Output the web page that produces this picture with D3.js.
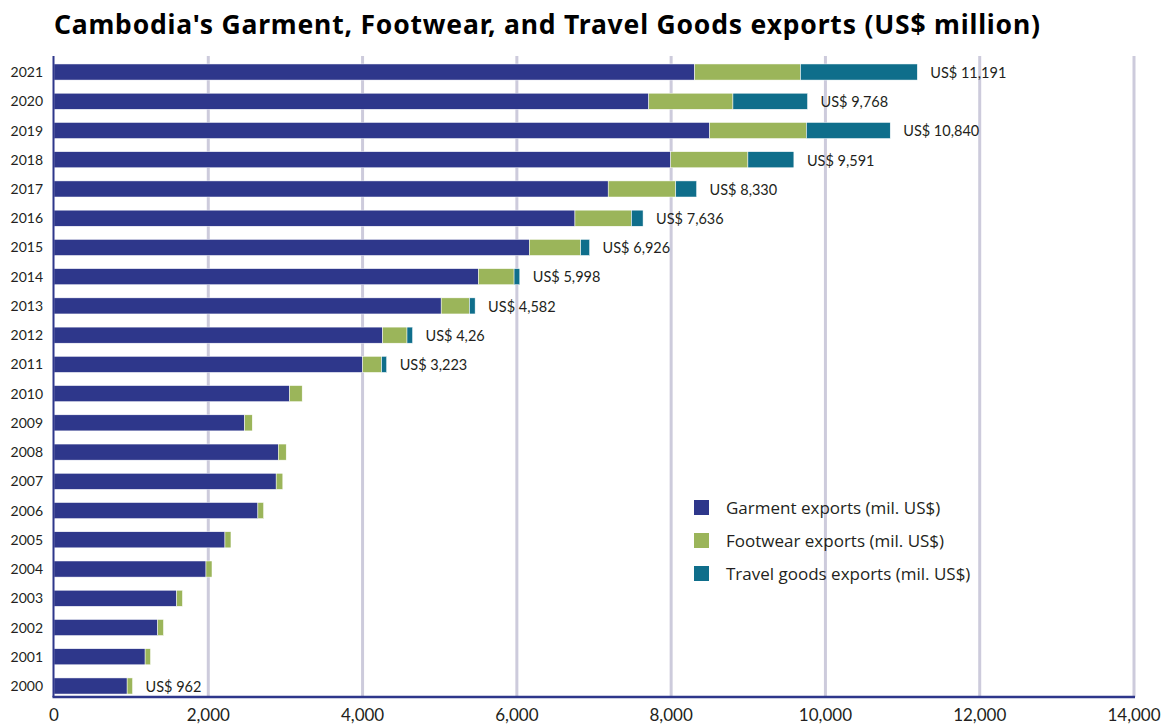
<!DOCTYPE html>
<html lang="en">
<head>
<meta charset="UTF-8">
<title>Cambodia's Garment, Footwear, and Travel Goods exports</title>
<script src="https://d3js.org/d3.v7.min.js"></script>
<style>
    body { margin: 0; background: #ffffff; }
    svg { display: block; }
    .title { font-family: 'Noto Sans', sans-serif; font-weight: bold; font-size: 26.5px; letter-spacing: 0.8px; fill: #000; }
    .year { font-family: 'Lato', sans-serif; font-size: 14px; fill: #231f20; }
    .total { font-family: 'Lato', sans-serif; font-size: 14.5px; fill: #231f20; }
    .xtick { font-family: 'Lato', sans-serif; font-size: 17px; fill: #231f20; }
    .legend-text { font-family: 'Open Sans', sans-serif; font-size: 17px; fill: #231f20; }
</style>
</head>
<body>
<svg id="chart" width="1161" height="724"></svg>
<script>
// values in US$ million
const years = ["2000","2001","2002","2003","2004","2005","2006","2007","2008","2009","2010",
               "2011","2012","2013","2014","2015","2016","2017","2018","2019","2020","2021"];
const garment  = [948,1181,1345,1591,1970,2216,2643,2880,2907,2471,3053,4001,4260,5019,5502,6162,6753,7184,7995,8499,7710,8305];
const footwear = [70,70,74,74,78,78,74,86,103,99,164,246,316,367,462,665,733,876,1000,1255,1091,1372];
const travel   = [0,0,0,0,0,0,0,0,0,0,0,65,72,73,74,116,150,270,596,1086,967,1514];

const labelYears = ["2000","2011","2012","2013","2014","2015","2016","2017","2018","2019","2020","2021"];
const labelTexts = ["US$ 962","US$ 3,223","US$ 4,26","US$ 4,582","US$ 5,998","US$ 6,926","US$ 7,636",
                    "US$ 8,330","US$ 9,591","US$ 10,840","US$ 9,768","US$ 11,191"];

const seriesNames = ["Garment exports (mil. US$)", "Footwear exports (mil. US$)", "Travel goods exports (mil. US$)"];
const seriesKeys = ["garment", "footwear", "travel"];
const colors = ["#2e378b", "#9bb55a", "#0f6e8b"];
const xTicks = [0, 2000, 4000, 6000, 8000, 10000, 12000, 14000];

const svg = d3.select("#chart");

const rows = years.map((y, i) => ({ year: y, garment: garment[i], footwear: footwear[i], travel: travel[i] }));

const x = d3.scaleLinear().domain([0, 14000]).range([54, 1134]);
const y = d3.scaleBand()
    .domain(years.slice().reverse())
    .range([57.4, 700.6])
    .paddingInner(0.45)
    .paddingOuter(0.225);

const axisY = 697;

// title
svg.append("text")
    .attr("class", "title")
    .attr("x", 54)
    .attr("y", 34)
    .text("Cambodia's Garment, Footwear, and Travel Goods exports (US$ million)");

// vertical grid lines
svg.append("g")
    .selectAll("line")
    .data(xTicks.slice(1))
    .join("line")
    .attr("x1", d => x(d)).attr("x2", d => x(d))
    .attr("y1", 56).attr("y2", axisY)
    .attr("stroke", "#cdcbdc")
    .attr("stroke-width", 3);

// stacked bars
const stack = d3.stack().keys(seriesKeys);
const stacked = stack(rows);

svg.append("g")
    .selectAll("g")
    .data(stacked)
    .join("g")
    .attr("fill", (d, i) => colors[i])
    .selectAll("rect")
    .data(d => d.filter(s => s[1] - s[0] > 0))
    .join("rect")
    .attr("x", d => x(d[0]))
    .attr("y", d => y(d.data.year))
    .attr("width", d => x(d[1]) - x(d[0]))
    .attr("height", y.bandwidth())
    .attr("stroke", "#ffffff")
    .attr("stroke-width", 0.5);

// left axis line and bottom axis line
svg.append("line")
    .attr("x1", 53.5).attr("x2", 53.5)
    .attr("y1", 56).attr("y2", axisY)
    .attr("stroke", "#2e378b").attr("stroke-width", 2);
svg.append("line")
    .attr("x1", 52.5).attr("x2", x(14000) + 1)
    .attr("y1", axisY).attr("y2", axisY)
    .attr("stroke", "#2e378b").attr("stroke-width", 2.5);

// year labels
svg.append("g")
    .selectAll("text")
    .data(years)
    .join("text")
    .attr("class", "year")
    .attr("x", 43)
    .attr("y", d => y(d) + y.bandwidth() / 2)
    .attr("dy", "0.36em")
    .attr("text-anchor", "end")
    .text(d => d);

// x tick labels
svg.append("g")
    .selectAll("text")
    .data(xTicks)
    .join("text")
    .attr("class", "xtick")
    .attr("x", d => x(d))
    .attr("y", 721)
    .attr("text-anchor", "middle")
    .text(d => d3.format(",")(d));

// totals
const totalOf = {};
rows.forEach(r => { totalOf[r.year] = r.garment + r.footwear + r.travel; });
svg.append("g")
    .selectAll("text")
    .data(labelYears)
    .join("text")
    .attr("class", "total")
    .attr("x", d => x(totalOf[d]) + 13)
    .attr("y", d => y(d) + y.bandwidth() / 2)
    .attr("dy", "0.4em")
    .text((d, i) => labelTexts[i]);

// legend
const legend = svg.append("g").attr("transform", "translate(694,500)");
const items = legend.selectAll("g")
    .data(seriesNames)
    .join("g")
    .attr("transform", (d, i) => `translate(0,${i * 33})`);
items.append("rect")
    .attr("width", 15).attr("height", 15)
    .attr("fill", (d, i) => colors[i]);
items.append("text")
    .attr("class", "legend-text")
    .attr("x", 32)
    .attr("y", 8)
    .attr("dy", "0.36em")
    .text(d => d);
</script>
</body>
</html>
